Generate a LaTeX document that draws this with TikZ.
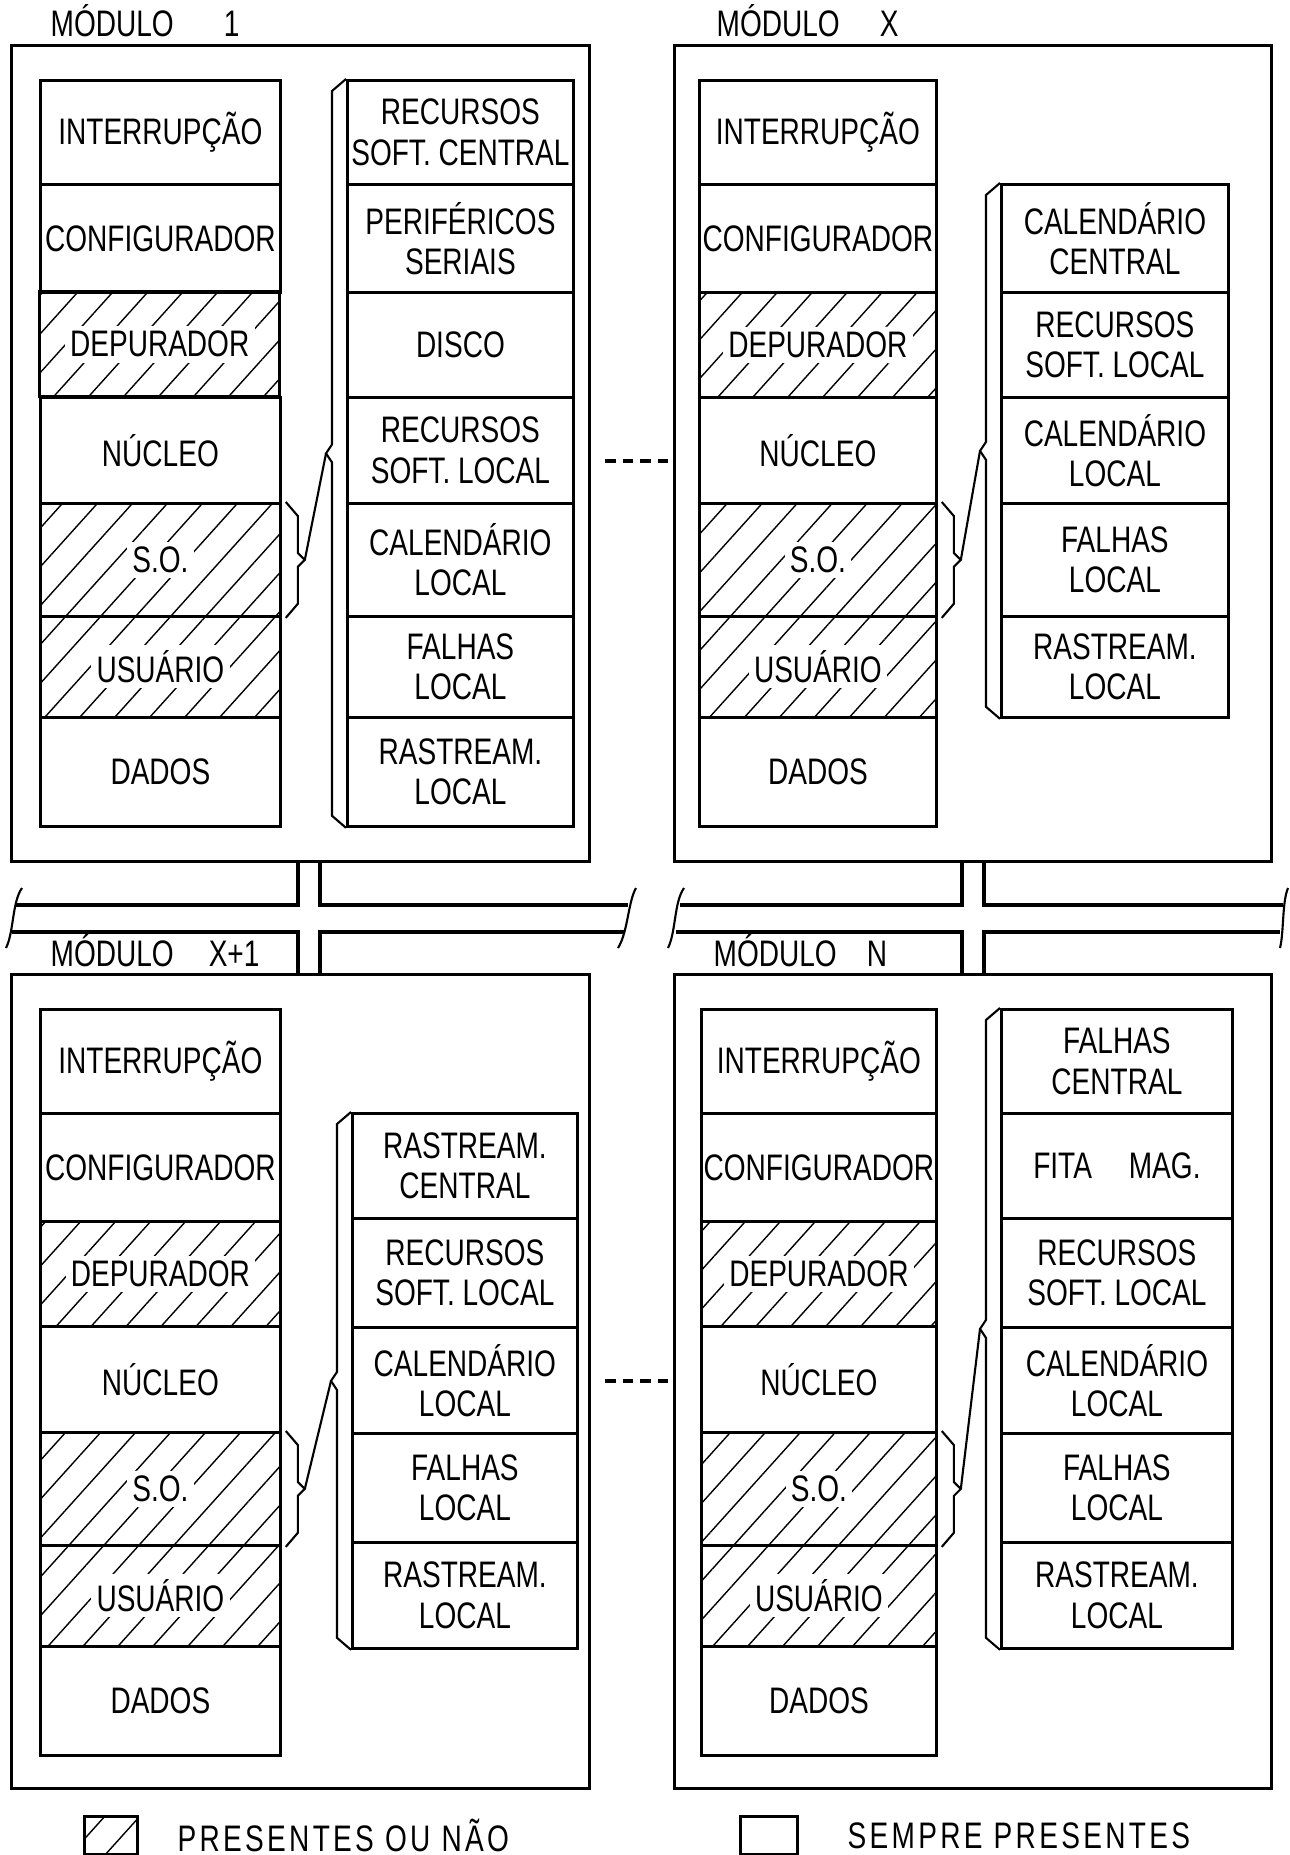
\documentclass[tikz,border=0pt]{standalone}
\usepackage{fontspec}
\setmainfont{Liberation Sans}[FakeStretch=0.76]
\usetikzlibrary{calc, positioning, patterns.meta}
\newcommand{\lbl}{\fontsize{10.5}{11.5}\selectfont}
\newcommand{\hl}[1]{{\setlength{\fboxsep}{1.5pt}\colorbox{white}{#1}}}

\begin{document}
\begin{tikzpicture}[
  x=0.1mm, y=-0.1mm,
  modbox/.style={draw, line width=0.9pt, anchor=north west, inner sep=0pt},
  cell/.style={draw, line width=0.8pt, anchor=north west, inner sep=0pt,
               align=center, font=\lbl},
  hatchcell/.style={pattern={Lines[angle=48, distance=2.6mm, line width=0.4pt]}},
  solidcell/.style={},
  brace/.style={line width=0.6pt},
  bus/.style={line width=0.9pt},
  modlbl/.style={font=\lbl, anchor=base west, inner sep=0pt},
  legtxt/.style={font=\lbl\addfontfeature{LetterSpace=9}, inner sep=0pt}
]
\useasboundingbox (0,0) rectangle (1290,1855);

% modules
\node[modbox, minimum width=57.8mm, minimum height=81.6mm] (mod1) at (10,44) {};
\node[modbox, minimum width=59.7mm, minimum height=81.6mm] (modx) at (673,44) {};
\node[modbox, minimum width=57.8mm, minimum height=81.4mm] (modxp) at (10,973) {};
\node[modbox, minimum width=59.7mm, minimum height=81.4mm] (modn) at (673,973) {};
\node[modlbl] (lab1) at (50,37) {MÓDULO\hspace{5mm}1};
\node[modlbl] (labx) at (716,37) {MÓDULO\hspace{4mm}X};
\node[modlbl] (labxp) at (50,966) {MÓDULO\hspace{3.5mm}X+1};
\node[modlbl] (labn) at (713,966) {MÓDULO\hspace{3mm}N};

% left columns (same in every module)
\foreach \m/\x/\w/\dy in {mod1/39/24/0, modx/698/23.7/0, modxp/39/24/929, modn/700/23.5/929}
  \foreach \t/\b/\s/\txt [count=\i] in {79/183/solidcell/INTERRUPÇÃO,
      183/291/solidcell/CONFIGURADOR, 291/396/hatchcell/\hl{DEPURADOR},
      396/502/solidcell/NÚCLEO, 502/615/hatchcell/\hl{S.O.},
      615/716/hatchcell/\hl{USUÁRIO}, 716/825/solidcell/DADOS}
    \node[cell, \s, minimum width=\w mm, minimum height=(\b-\t)*0.1mm]
      (\m-l\i) at (\x,\t+\dy) {\txt};

% right columns
\foreach \t/\b/\txt [count=\i] in {79/183/RECURSOS\\SOFT. CENTRAL,
    183/291/PERIFÉRICOS\\SERIAIS, 291/396/DISCO, 396/502/RECURSOS\\SOFT. LOCAL,
    502/615/CALENDÁRIO\\LOCAL, 615/716/FALHAS\\LOCAL, 716/825/RASTREAM.\\LOCAL}
  \node[cell, minimum width=22.6mm, minimum height=(\b-\t)*0.1mm] (mod1-r\i) at (346,\t) {\txt};
\foreach \t/\b/\txt [count=\i] in {183/291/CALENDÁRIO\\CENTRAL,
    291/396/RECURSOS\\SOFT. LOCAL, 396/502/CALENDÁRIO\\LOCAL,
    502/615/FALHAS\\LOCAL, 615/716/RASTREAM.\\LOCAL}
  \node[cell, minimum width=22.7mm, minimum height=(\b-\t)*0.1mm] (modx-r\i) at (1000,\t) {\txt};
\foreach \t/\b/\txt [count=\i] in {1112/1217/RASTREAM.\\CENTRAL,
    1217/1326/RECURSOS\\SOFT. LOCAL, 1326/1432/CALENDÁRIO\\LOCAL,
    1432/1541/FALHAS\\LOCAL, 1541/1647/RASTREAM.\\LOCAL}
  \node[cell, minimum width=22.5mm, minimum height=(\b-\t)*0.1mm] (modxp-r\i) at (351,\t) {\txt};
\foreach \t/\b/\txt [count=\i] in {1008/1112/FALHAS\\CENTRAL, 1112/1217/FITA\quad MAG.,
    1217/1326/RECURSOS\\SOFT. LOCAL, 1326/1432/CALENDÁRIO\\LOCAL,
    1432/1541/FALHAS\\LOCAL, 1541/1647/RASTREAM.\\LOCAL}
  \node[cell, minimum width=23.1mm, minimum height=(\b-\t)*0.1mm] (modn-r\i) at (1000,\t) {\txt};

% braces S.O. -> right column
\foreach \m/\n in {mod1/7, modx/5, modxp/5, modn/6} {
  \coordinate (\m-bt) at ($(\m-r1.north west)!.5!(\m-r\n.south west)+(-20,0)$);
  \coordinate (\m-st) at ($(\m-l5.east)+(23,0)$);
  \draw[brace] (\m-r1.north west) -- ++(-14,12) -- ($(\m-bt)+(6,-9)$) -- (\m-bt)
    -- ($(\m-bt)+(6,9)$) -- ($(\m-r\n.south west)+(-14,-12)$) -- (\m-r\n.south west);
  \draw[brace] ($(\m-l5.north east)+(4,0)$) -- ++(12,14) -- ($(\m-st)+(-7,-7)$) -- (\m-st)
    -- ($(\m-st)+(-7,7)$) -- ($(\m-l5.south east)+(16,-14)$) -- ($(\m-l5.south east)+(4,0)$);
  \draw[brace] (\m-st) -- (\m-bt);
}

% dashed links
\coordinate (d1) at (605,461);
\coordinate (d2) at (605,1381);
\draw[bus, dash pattern=on 3pt off 2pt] (d1) -- (d1 -| modx.west);
\draw[bus, dash pattern=on 3pt off 2pt] (d2) -- (d2 -| modn.west);

% bus
\coordinate (c1a) at (298,905); \coordinate (c1b) at (320,905);
\coordinate (c1c) at (298,932); \coordinate (c1d) at (320,932);
\coordinate (c2a) at (962,905); \coordinate (c2b) at (984,905);
\coordinate (c2c) at (962,932); \coordinate (c2d) at (984,932);
\draw[bus] (16,905) -- (c1a) -- (c1a |- mod1.south);
\draw[bus] (c1b |- mod1.south) -- (c1b) -- (628,905);
\draw[bus] (12,932) -- (c1c) -- (c1c |- modxp.north);
\draw[bus] (c1d |- modxp.north) -- (c1d) -- (624,932);
\draw[bus] (680,905) -- (c2a) -- (c2a |- modx.south);
\draw[bus] (c2b |- modx.south) -- (c2b) -- (1283,905);
\draw[bus] (676,932) -- (c2c) -- (c2c |- modn.north);
\draw[bus] (c2d |- modn.north) -- (c2d) -- (1280,932);
\draw[brace] (22,888) .. controls (12,902) and (14,932) .. (6,948);
\draw[brace] (636,888) .. controls (628,902) and (628,932) .. (618,948);
\draw[brace] (684,888) .. controls (674,902) and (676,932) .. (668,948);
\draw[brace] (1288,888) .. controls (1282,902) and (1284,932) .. (1280,948);

% legend
\node[cell, hatchcell, minimum width=5.3mm, minimum height=3.8mm] (leghatch) at (83,1815) {};
\node[legtxt, right=3.8mm of leghatch] (leghtxt) {PRESENTES OU NÃO};
\node[cell, minimum width=5.7mm, minimum height=3.8mm] (legsolid) at (739,1815) {};
\node[legtxt, right=4.8mm of legsolid] (legstxt) {SEMPRE PRESENTES};
\end{tikzpicture}
\end{document}
